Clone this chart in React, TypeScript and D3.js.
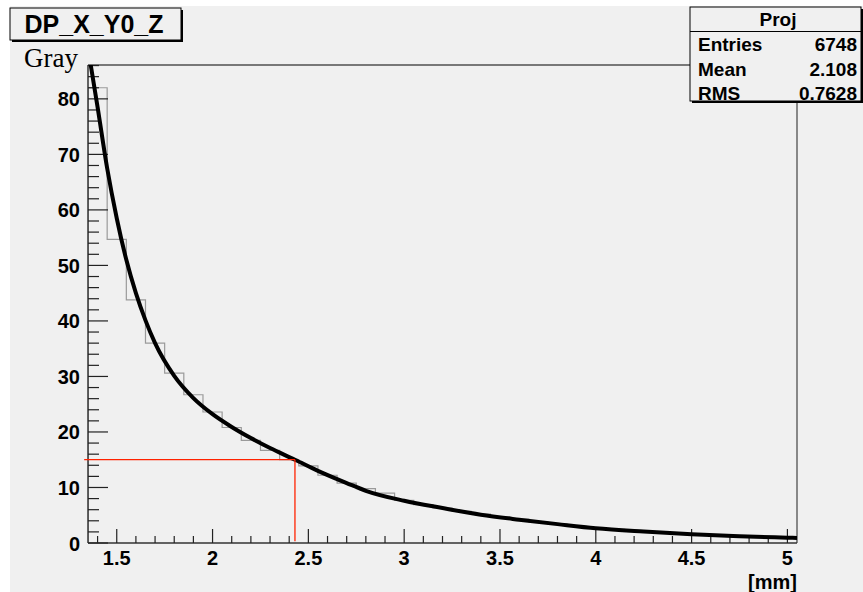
import React from "react";
import * as d3 from "d3";

// ---- data ----
const binLow = 1.35;
const binWidth = 0.1;
const histValues = [
  82, 54.7, 43.8, 36.0, 30.6, 26.7, 23.6, 20.8, 18.5, 16.7, 15.0, 13.9, 12.2, 10.8,
  9.8, 9.0, 7.7, 6.9, 6.3, 5.7, 5.2, 4.7, 4.3, 3.8, 3.4, 3.0, 2.7, 2.45, 2.2, 1.95,
  1.75, 1.55, 1.4, 1.3, 1.15, 1.05, 0.95,
];
const fitX = [1.36, 1.4, 1.45, 1.5, 1.55, 1.6, 1.65, 1.7, 1.8, 1.9, 2.0, 2.1, 2.2, 2.3, 2.43, 2.55, 2.7, 2.8, 3.0, 3.2, 3.4, 3.6, 3.8, 4.0, 4.25, 4.5, 4.75, 5.0, 5.05];
const fitY = [87, 78.5, 67.5, 58.5, 51.0, 45.0, 40.1, 36.0, 30.1, 26.1, 23.2, 20.9, 18.9, 17.1, 15.0, 13.0, 10.8, 9.4, 7.6, 6.3, 5.1, 4.2, 3.4, 2.65, 2.05, 1.56, 1.22, 0.95, 0.9];
const markerX = 2.43;
const markerY = 15;
const markerStartX = 1.33;
const xTicks = [1.5, 2, 2.5, 3, 3.5, 4, 4.5, 5];
const xTickLabels = ["1.5", "2", "2.5", "3", "3.5", "4", "4.5", "5"];
const yTicks = [0, 10, 20, 30, 40, 50, 60, 70, 80];
const xDomain = [1.35, 5.05];
const yDomain = [0, 86.1];
const statsNames = ["Entries", "Mean", "RMS"];
const statsValues = ["6748", "2.108", "0.7628"];

export default function App() {
  const W = 863, H = 592;
  const L = 88, R = 797, T = 65, B = 543;
  const x = d3.scaleLinear().domain(xDomain).range([L, R]);
  const y = d3.scaleLinear().domain(yDomain).range([B, T]);
  const sans = "'Liberation Sans', Arial, sans-serif";

  // histogram step path
  let hp = `M${x(binLow)},${y(0)}`;
  histValues.forEach((v, i) => {
    const x0 = x(binLow + i * binWidth);
    const x1 = x(binLow + (i + 1) * binWidth);
    hp += `L${x0},${y(v)}L${x1},${y(v)}`;
  });
  hp += `L${x(binLow + histValues.length * binWidth)},${y(0)}`;

  const line = d3
    .line<number>()
    .x((d, i) => x(fitX[i]))
    .y((d) => y(d))
    .curve(d3.curveMonotoneX);
  const fitPath = line(fitY) || "";

  const yMinor = d3.range(0, yDomain[1] + 0.001, 2);
  const xMinor = d3.range(14, 51, 1).map((v) => v / 10);

  const fontLab = { fontFamily: sans, fontWeight: 700, fontSize: 20 } as const;

  return (
    <svg width={W} height={H} style={{ position: "absolute", left: 0, top: 0 }}>
      <rect x={0} y={0} width={W} height={H} fill="#ffffff" />
      <rect x={10} y={6} width={W - 10} height={H - 6} fill="#f0f0f0" />
      <defs>
        <clipPath id="frameClip">
          <rect x={L} y={T} width={R - L} height={B - T} />
        </clipPath>
      </defs>

      {/* histogram */}
      <path d={hp} fill="none" stroke="#9a9a9a" strokeWidth={1.2} clipPath="url(#frameClip)" />

      {/* frame */}
      <line x1={L} y1={T} x2={R} y2={T} stroke="#000" strokeWidth={1} />
      <line x1={R} y1={T} x2={R} y2={B} stroke="#666" strokeWidth={1.5} />
      <line x1={L} y1={T} x2={L} y2={B} stroke="#333" strokeWidth={1.5} />
      <line x1={L} y1={B} x2={R} y2={B} stroke="#333" strokeWidth={1.5} />

      {/* y ticks */}
      {yMinor.map((v) => (
        <line key={"ym" + v} x1={L} x2={L + (v % 10 === 0 ? 20 : 11)} y1={y(v)} y2={y(v)} stroke="#222" strokeWidth={1.2} />
      ))}
      {yTicks.map((v) => (
        <text key={"yl" + v} x={80} y={y(v) + 7.5} textAnchor="end" {...fontLab} fill="#000">
          {v}
        </text>
      ))}

      {/* x ticks */}
      {xMinor.map((v) => (
        <line key={"xm" + v} x1={x(v)} x2={x(v)} y1={B} y2={B - (Math.abs(v * 2 - Math.round(v * 2)) < 1e-6 ? 14 : 7)} stroke="#222" strokeWidth={1.2} />
      ))}
      {xTicks.map((v, i) => (
        <text key={"xl" + v} x={x(v)} y={565} textAnchor="middle" {...fontLab} fill="#000">
          {xTickLabels[i]}
        </text>
      ))}
      <text x={R} y={589} textAnchor="end" {...fontLab} fill="#000">[mm]</text>

      {/* fit curve */}
      <path d={fitPath} fill="none" stroke="#000" strokeWidth={4} clipPath="url(#frameClip)" />

      {/* red marker lines */}
      <line x1={x(markerStartX)} x2={x(markerX)} y1={y(markerY)} y2={y(markerY)} stroke="#ff2200" strokeWidth={1.3} />
      <line x1={x(markerX)} x2={x(markerX)} y1={y(markerY)} y2={y(0.3)} stroke="#ff2200" strokeWidth={1.3} />

      {/* y title */}
      <text x={78} y={67} textAnchor="end" fontFamily="'Liberation Serif', 'Times New Roman', serif" fontSize={27} fill="#000">
        Gray
      </text>

      {/* title box */}
      <rect x={12} y={10} width={171} height={32} fill="#000" />
      <rect x={10} y={8} width={171} height={32} fill="#f0f0f0" stroke="#000" strokeWidth={1} />
      <text x={94} y={33} textAnchor="middle" fontFamily={sans} fontWeight={700} fontSize={25} fill="#000">
        DP_X_Y0_Z
      </text>

      {/* stats box */}
      <rect x={692} y={9} width={171} height={94} fill="#000" />
      <rect x={690} y={7} width={171} height={94} fill="#f0f0f0" stroke="#000" strokeWidth={1} />
      <line x1={690} x2={861} y1={31.5} y2={31.5} stroke="#000" strokeWidth={1} />
      <text x={778} y={26} textAnchor="middle" fontFamily={sans} fontWeight={700} fontSize={19} fill="#000">
        Proj
      </text>
      {statsNames.map((n, i) => (
        <g key={n}>
          <text x={698} y={51 + i * 24.5} fontFamily={sans} fontWeight={700} fontSize={19} fill="#000">
            {n}
          </text>
          <text x={857} y={51 + i * 24.5} textAnchor="end" fontFamily={sans} fontWeight={700} fontSize={19} fill="#000">
            {statsValues[i]}
          </text>
        </g>
      ))}
    </svg>
  );
}
